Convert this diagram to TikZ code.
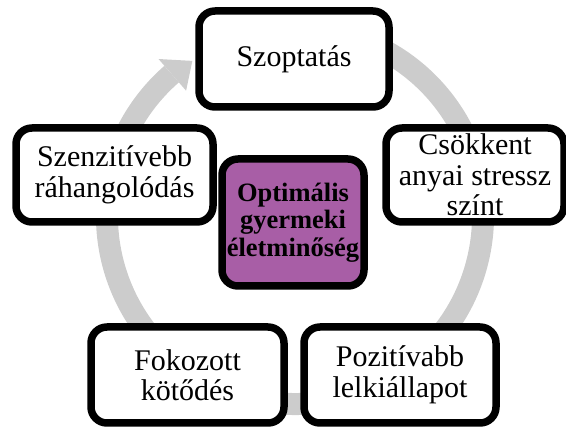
\documentclass[tikz,border=0pt]{standalone}
\usepackage{fontspec}
\setmainfont{Liberation Serif}
\usetikzlibrary{shadows,calc}
\definecolor{ringgray}{RGB}{204,204,204}
\definecolor{midpurple}{RGB}{168,94,166}
\tikzset{
  cyclebox/.style={draw=black, line width=7.5pt, fill=white, rounded corners=16pt,
    align=center, inner sep=0pt, font=\fontsize{30}{30.5}\selectfont,
    drop shadow={shadow xshift=2pt, shadow yshift=-3pt, opacity=0.3, fill=black}},
  centerbox/.style={cyclebox, fill=midpurple, font=\fontsize{26.5}{27.5}\selectfont\bfseries},
  ring/.style={draw=ringgray, line width=22pt, line cap=butt},
}
\begin{document}
\begin{tikzpicture}[x=1pt, y=-1pt]
\useasboundingbox (0,0) rectangle (566,427);
\coordinate (c) at (295,216);
% ring
\draw[ring] ($(c)+(-75:188)$) arc[start angle=-75, end angle=229, radius=188];
\coordinate (ahA) at ($(c)+(229:208)$);
\coordinate (ahB) at ($(c)+(229:166)$);
\coordinate (ahT) at ($(c)+(236.5:186)$);
\fill[ringgray] (ahA) -- (ahT) -- (ahB) -- cycle;
% boxes
\node[cyclebox, minimum width=190, minimum height=96] (szop) at (294,59) {Szoptatás};
\node[cyclebox, minimum width=178, minimum height=94] (csok) at (475,175) {Csökkent\\anyai stressz\\színt};
\node[cyclebox, minimum width=197, minimum height=94] (szen) at (114.5,175) {Szenzitívebb\\ráhangolódás};
\node[cyclebox, minimum width=193, minimum height=96] (fok) at (187.5,375) {Fokozott\\kötődés};
\node[cyclebox, minimum width=192, minimum height=96] (poz) at (400,375) {Pozitívabb\\lelkiállapot};
\node[centerbox, minimum width=142, minimum height=127] (opt) at (293,222.5) {Optimális\\gyermeki\\életminőség};
\end{tikzpicture}
\end{document}
